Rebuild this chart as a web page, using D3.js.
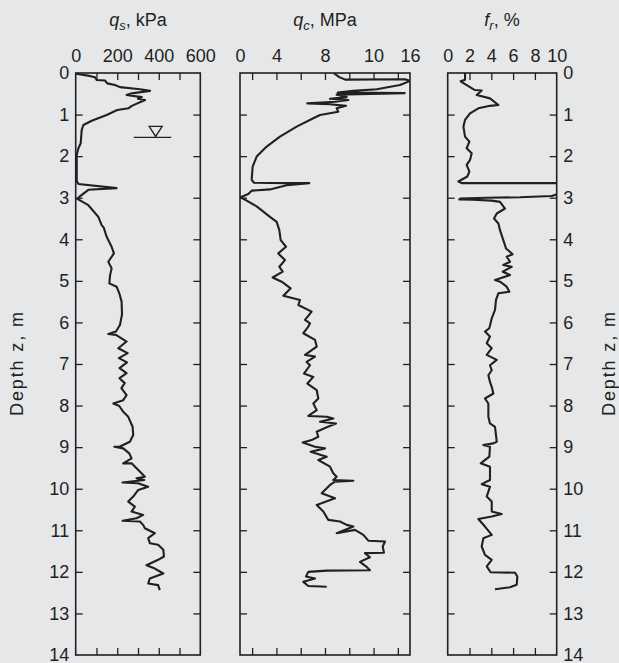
<!DOCTYPE html>
<html>
<head>
<meta charset="utf-8">
<script src="https://cdn.jsdelivr.net/npm/d3@7"></script>
<style>
body { margin: 0; background: #e6e7e8; }
text { font-family: "Liberation Sans", Arial, Helvetica, sans-serif; fill: #231f20; }
</style>
</head>
<body>
<svg id="chart" width="619" height="663"></svg>
<script>
// depth axis (m)
var depthTicks = [0,1,2,3,4,5,6,7,8,9,10,11,12,13,14];
var depthInner = [1,2,3,4,5,6,7,8,9,10,11,12,13];

// q_s, kPa
var qsTicks = [100,200,300,400,500];
var qsLabels = [0,200,400,600];
var qsDepth = [0.00,0.02,0.07,0.10,0.17,0.18,0.25,0.29,0.34,0.39,0.43,0.49,0.53,0.58,0.62,0.65,0.79,0.85,0.89,1.01,1.15,1.25,1.37,1.69,1.81,1.97,2.60,2.67,2.77,2.81,2.98,3.03,3.18,3.46,3.66,3.72,3.94,4.18,4.34,4.54,4.70,4.88,5.06,5.14,5.30,5.50,5.81,6.06,6.22,6.28,6.30,6.46,6.62,6.74,6.86,6.96,7.10,7.22,7.34,7.46,7.58,7.75,7.87,7.95,8.01,8.15,8.27,8.51,8.71,8.87,8.99,8.99,9.03,9.15,9.27,9.39,9.39,9.51,9.63,9.71,9.75,9.79,9.85,9.87,9.95,10.03,10.19,10.31,10.43,10.55,10.63,10.71,10.77,10.79,10.87,10.95,11.07,11.19,11.31,11.35,11.47,11.63,11.71,11.84,11.92,12.04,12.16,12.28,12.32,12.44];
var qsValue = [0,2,66,93,101,141,152,189,213,310,358,270,245,318,300,334,270,254,200,149,77,37,29,24,13,5,5,13,197,61,17,8,61,109,125,135,149,173,184,157,173,165,162,197,210,221,223,213,194,157,194,245,205,250,208,247,211,245,211,236,220,245,229,181,210,229,253,274,277,261,211,186,229,258,269,229,269,293,317,333,293,330,225,300,349,301,277,253,285,269,325,293,226,309,325,333,381,349,357,397,422,425,397,341,381,422,357,349,397,405];
var waterDepth = 1.55;
var waterLine = [280, 460];
var waterMark = 385;

// q_c, MPa (ticks as printed on the original axis)
var qcTickSlots = [0.5,1.5,2.5,3.5,4.5,5.5,6.5];
var qcLabelSlots = [0,1.5,3.5,5.5,7];
var qcLabels = ['0','4','8','10','16'];
var qcDepth = [0.00,0.10,0.16,0.16,0.15,0.19,0.29,0.39,0.43,0.47,0.485,0.52,0.58,0.62,0.65,0.69,0.73,0.75,0.79,0.85,0.93,1.01,1.09,1.29,1.53,1.77,2.01,2.25,2.57,2.64,2.65,2.65,2.70,2.80,2.83,2.91,2.99,3.07,3.21,3.46,3.58,3.78,4.02,4.18,4.34,4.50,4.66,4.78,4.92,5.02,5.18,5.36,5.46,5.58,5.74,5.94,6.02,6.10,6.26,6.42,6.58,6.78,6.82,6.95,7.03,7.23,7.31,7.47,7.63,7.83,7.95,8.11,8.25,8.27,8.31,8.39,8.43,8.52,8.63,8.75,8.83,8.89,8.99,9.03,9.11,9.23,9.31,9.47,9.63,9.71,9.79,9.81,9.83,9.91,10.11,10.23,10.39,10.55,10.75,10.79,10.87,10.91,11.07,10.99,11.11,11.25,11.27,11.39,11.54,11.55,11.65,11.76,11.88,11.96,11.97,12.00,12.11,12.16,12.24,12.34,12.36];
var qcValue = [8.8,9.35,9.9,10.04,15.53,16,15.06,12.86,10.67,9.2,15.5,9.1,10.04,8.47,10.2,8.94,6.34,8.47,9.98,9.1,9.25,7.53,6.9,5.33,3.76,2.51,1.57,1.19,1.1,1.32,4.39,6.52,4.39,2.82,1.1,0.78,0.06,0.63,1.57,2.82,3.45,3.70,3.83,4.33,3.6,4.23,3.70,4.02,3.07,3.92,4.77,4.08,5.65,5.49,6.74,6.12,6.59,6.43,5.96,7.06,7.22,6.12,7.06,6.27,6.59,6.02,6.9,6.34,7.22,7.37,6.9,7.22,6.43,8.16,8.78,7.53,9.04,8.16,7.22,7.37,6.74,5.9,7.06,8.0,6.65,8.16,7.37,8.47,8.78,9.1,8.78,10.67,8.94,8.47,7.69,8.94,7.22,7.84,8.31,9.41,10.04,10.67,9.1,10.82,11.61,12.08,13.65,13.43,13.55,11.76,12.23,11.29,11.92,12.23,8.16,6.43,6.21,7.06,5.96,6.43,8.16];

// f_r, %
var frTicks = [2,4,6,8];
var frLabels = [0,2,4,6,8,10];
var frDepth = [0.00,0.16,0.20,0.29,0.41,0.42,0.53,0.61,0.77,0.79,0.85,0.97,1.13,1.29,1.53,1.65,1.81,1.93,2.09,2.21,2.37,2.49,2.61,2.65,2.65,2.88,2.96,2.99,3.00,3.02,3.04,3.05,3.07,3.10,3.26,3.38,3.50,3.62,3.78,4.02,4.22,4.36,4.42,4.54,4.62,4.66,4.78,4.86,4.98,5.02,5.14,5.26,5.30,5.46,5.70,5.90,6.14,6.22,6.34,6.50,6.62,6.78,6.90,7.03,7.15,7.27,7.43,7.55,7.71,7.83,7.95,8.27,8.43,8.51,8.87,8.91,8.95,8.99,9.23,9.39,9.47,9.79,9.89,9.95,10.19,10.31,10.55,10.61,10.67,10.73,10.91,11.11,11.19,11.39,11.59,11.71,11.87,12.01,12.02,12.11,12.31,12.37,12.42];
var frValue = [1.59,1.59,1.19,1.74,2.5,3.12,2.66,3.88,4.65,3.88,2.81,2.05,1.59,1.44,1.59,1.99,1.74,2.2,2.05,1.74,1.99,1.8,0.98,1.28,10.5,10.5,9.54,6.64,3.58,1.13,1.07,2.35,4.04,4.8,5.26,4.5,4.25,4.65,4.8,5.1,5.35,5.96,5.41,5.72,5.1,5.87,5.05,5.72,4.34,4.8,5.41,5.66,4.65,4.43,4.34,4.04,3.82,3.42,3.88,3.58,4.04,3.58,4.5,3.88,4.04,3.73,3.88,4.04,4.19,3.42,3.73,3.73,3.88,4.34,4.5,4.19,3.27,3.88,3.82,3.03,3.88,3.88,3.12,3.88,3.58,4.04,4.04,4.95,4.04,2.81,3.42,4.04,3.27,3.12,3.42,4.04,3.58,3.94,6.18,6.39,6.33,5.72,4.34];

var ink = "#231f20";
var svg = d3.select("#chart");
svg.append("rect").attr("width", 619).attr("height", 663).attr("fill", "#e6e7e8");

var plotTop = 73, plotBottom = 655;
var y = d3.scaleLinear().domain([0, 14]).range([plotTop, plotBottom]);

var xQs = d3.scaleLinear().domain([0, 600]).range([75.7, 200.3]);
var xQc = d3.scaleLinear().domain([0, 16]).range([240, 410]);
var qcSlot = d3.scaleLinear().domain([0, 7]).range([240, 410]);
var xFr = d3.scaleLinear().domain([0, 10]).range([447.7, 556.7]);

function styleAxis(g) {
    g.select(".domain").remove();
    g.attr("font-size", 18).attr("font-family", null);
    g.selectAll("line").attr("stroke", ink).attr("stroke-width", 1.3);
    g.selectAll("text").attr("fill", ink);
}

//Frame with inward ticks on all four sides.
function drawPanel(id, x, tickScale, tickVals) {
    var x0 = x.range()[0], x1 = x.range()[1];
    var g = svg.append("g").attr("id", id);
    g.append("g").attr("transform", "translate(0," + plotTop + ")")
        .call(d3.axisTop(tickScale).tickValues(tickVals).tickSize(-7).tickFormat(""))
        .call(styleAxis);
    g.append("g").attr("transform", "translate(0," + plotBottom + ")")
        .call(d3.axisBottom(tickScale).tickValues(tickVals).tickSize(-7).tickFormat(""))
        .call(styleAxis);
    g.append("g").attr("transform", "translate(" + x0 + ",0)")
        .call(d3.axisLeft(y).tickValues(depthInner).tickSize(-7).tickFormat(""))
        .call(styleAxis);
    g.append("g").attr("transform", "translate(" + x1 + ",0)")
        .call(d3.axisRight(y).tickValues(depthInner).tickSize(-7).tickFormat(""))
        .call(styleAxis);
    g.append("rect")
        .attr("x", x0).attr("y", plotTop)
        .attr("width", x1 - x0).attr("height", plotBottom - plotTop)
        .attr("fill", "none").attr("stroke", ink).attr("stroke-width", 1.6);
    svg.append("clipPath").attr("id", "clip-" + id)
        .append("rect").attr("x", x0).attr("y", plotTop)
        .attr("width", x1 - x0).attr("height", plotBottom - plotTop);
    return g;
}

function drawCurve(g, id, x, depth, value) {
    var pts = depth.map(function(d, i) { return [value[i], d]; });
    var line = d3.line().x(function(p) { return x(p[0]); }).y(function(p) { return y(p[1]); });
    g.append("path")
        .attr("d", line(pts))
        .attr("clip-path", "url(#clip-" + id + ")")
        .attr("fill", "none")
        .attr("stroke", ink)
        .attr("stroke-width", 2.1)
        .attr("stroke-linejoin", "round");
}

function drawTitle(cx, main, sub, rest) {
    var t = svg.append("text").attr("x", cx).attr("y", 26)
        .attr("text-anchor", "middle").attr("font-size", 18);
    t.append("tspan").attr("font-style", "italic").text(main);
    t.append("tspan").attr("font-style", "italic").attr("font-size", 13).attr("dy", 4).text(sub);
    t.append("tspan").attr("dy", -4).text(rest);
}

var p1 = drawPanel("qs", xQs, xQs, qsTicks);
var p2 = drawPanel("qc", xQc, qcSlot, qcTickSlots);
var p3 = drawPanel("fr", xFr, xFr, frTicks);

drawCurve(p1, "qs", xQs, qsDepth, qsValue);
drawCurve(p2, "qc", xQc, qcDepth, qcValue);
drawCurve(p3, "fr", xFr, frDepth, frValue);

// top tick labels
svg.append("g").attr("transform", "translate(0," + plotTop + ")")
    .call(d3.axisTop(xQs).tickValues(qsLabels).tickSize(0).tickPadding(11))
    .call(styleAxis);
svg.append("g").attr("transform", "translate(0," + plotTop + ")")
    .call(d3.axisTop(qcSlot).tickValues(qcLabelSlots).tickSize(0).tickPadding(11)
        .tickFormat(function(d, i) { return qcLabels[i]; }))
    .call(styleAxis);
svg.append("g").attr("transform", "translate(0," + plotTop + ")")
    .call(d3.axisTop(xFr).tickValues(frLabels).tickSize(0).tickPadding(11))
    .call(styleAxis);

// depth labels, left and right
svg.append("g").attr("transform", "translate(" + xQs.range()[0] + ",0)")
    .call(d3.axisLeft(y).tickValues(depthTicks).tickSize(0).tickPadding(6.5))
    .call(styleAxis);
svg.append("g").attr("transform", "translate(" + xFr.range()[1] + ",0)")
    .call(d3.axisRight(y).tickValues(depthTicks).tickSize(0).tickPadding(6.5))
    .call(styleAxis);

drawTitle(138, "q", "s", ", kPa");
drawTitle(325, "q", "c", ", MPa");
drawTitle(502, "f", "r", ", %");

// axis titles
[22.5, 615].forEach(function(bx) {
    svg.append("text")
        .attr("transform", "translate(" + bx + "," + y(7) + ") rotate(-90)")
        .attr("text-anchor", "middle")
        .attr("font-size", 18)
        .attr("textLength", 104)
        .attr("lengthAdjust", "spacing")
        .text("Depth z, m");
});

// water table marker
var wy = y(waterDepth);
p1.append("line")
    .attr("x1", xQs(waterLine[0])).attr("x2", xQs(waterLine[1]))
    .attr("y1", wy).attr("y2", wy)
    .attr("stroke", ink).attr("stroke-width", 1.3);
var mx = xQs(waterMark);
p1.append("path")
    .attr("d", "M" + (mx - 6.5) + "," + (wy - 11) + "L" + (mx + 6.5) + "," + (wy - 11) + "L" + mx + "," + (wy - 1) + "Z")
    .attr("fill", "none").attr("stroke", ink).attr("stroke-width", 1.3);
</script>
</body>
</html>
